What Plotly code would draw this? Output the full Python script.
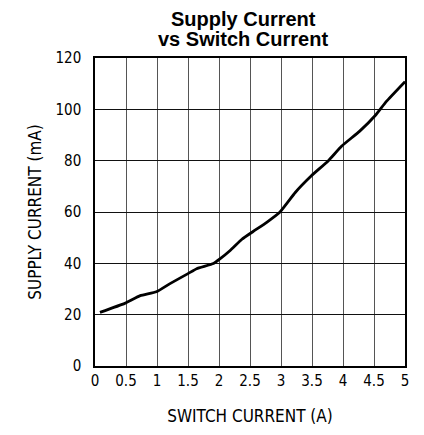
import plotly.graph_objects as go

switch_current = [0.08, 0.48, 0.73, 0.99, 1.21, 1.5, 1.64, 1.91, 2.02, 2.18, 2.37, 2.55, 2.77, 2.98,
                  3.23, 3.49, 3.76, 3.98, 4.27, 4.52, 4.70, 5.0]
supply_current = [20.9, 24.4, 27.4, 28.9, 32.1, 36.0, 37.9, 39.9, 41.8, 45.0, 49.4, 52.4, 56.0, 59.9,
                  67.6, 74.1, 79.9, 85.7, 91.5, 97.6, 103.1, 110.8]

x_ticks = [0, 0.5, 1, 1.5, 2, 2.5, 3, 3.5, 4, 4.5, 5]
x_tick_text = ["0", "0.5", "1", "1.5", "2", "2.5", "3", "3.5", "4", "4.5", "5"]
y_ticks = [0, 20, 40, 60, 80, 100, 120]
title_lines = ["Supply Current", "vs Switch Current"]

fig = go.Figure()
fig.add_trace(go.Scatter(x=switch_current, y=supply_current, mode="lines",
                         line=dict(color="black", width=2.8, shape="spline", smoothing=0.4),
                         showlegend=False))

tick_font = dict(family="DejaVu Sans Condensed", size=15, color="black")
title_font = dict(family="DejaVu Sans Condensed", size=17, color="black")
m_l, m_r, m_t, m_b = 87, 19, 50, 67
W, H = 416, 427
plot_h = H - m_t - m_b
for i, line in enumerate(title_lines):
    fig.add_annotation(text="<b>%s</b>" % line, xref="paper", yref="paper",
                       x=0.479, y=1 + (m_t - (11 + 20 * i)) / plot_h,
                       xanchor="center", yanchor="middle", showarrow=False,
                       font=dict(family="Liberation Sans", size=20, color="black"))

fig.update_layout(
    width=W, height=H,
    margin=dict(l=m_l, r=m_r, t=m_t, b=m_b),
    paper_bgcolor="white", plot_bgcolor="white",
)
fig.update_xaxes(range=[0, 5], tickvals=x_ticks, ticktext=x_tick_text, tickfont=tick_font,
                 showgrid=True, gridcolor="#555", gridwidth=1.2,
                 showline=True, linecolor="black", linewidth=1.5, mirror=True,
                 ticks="", zeroline=False, ticklabelstandoff=0,
                 title=dict(text="SWITCH CURRENT (A)", font=title_font, standoff=21))
fig.update_yaxes(range=[0, 120], tickvals=y_ticks, tickfont=tick_font,
                 showgrid=True, gridcolor="#111", gridwidth=1,
                 showline=True, linecolor="black", linewidth=1.5, mirror=True,
                 ticks="", zeroline=False, ticklabelstandoff=9,
                 title=dict(text="SUPPLY CURRENT (mA)", font=title_font, standoff=10))

fig.write_html("out.html")
